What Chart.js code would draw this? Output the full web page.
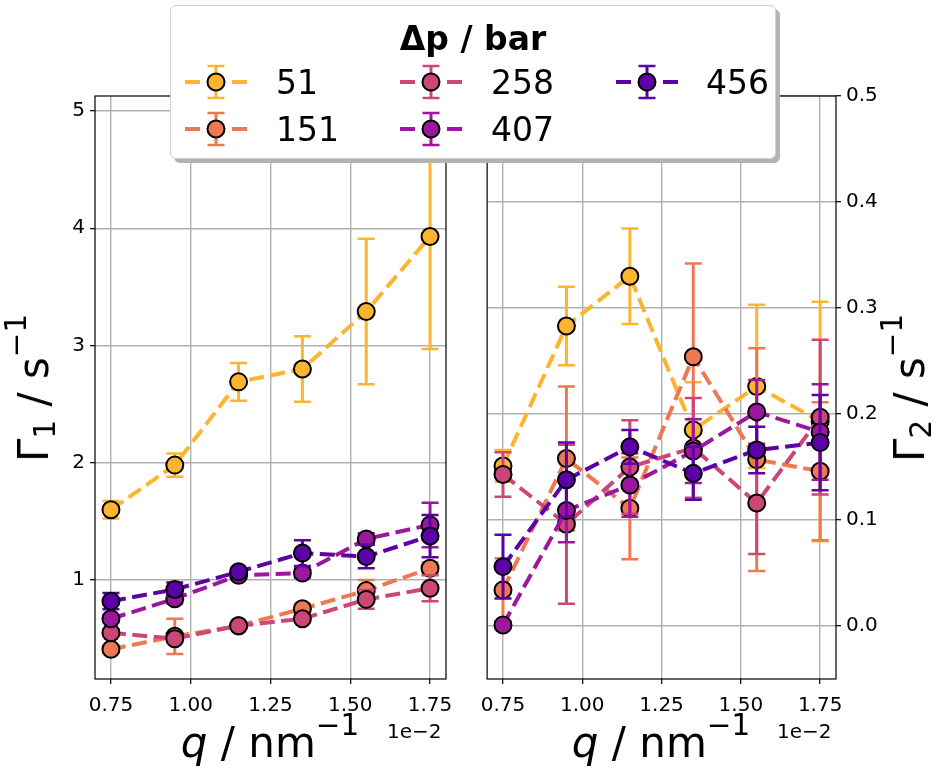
<!DOCTYPE html>
<html>
<head>
<meta charset="utf-8">
<script src="https://cdn.jsdelivr.net/npm/chart.js@4.4.0/dist/chart.umd.min.js"></script>
<style>
  body { margin: 0; background: #fff; font-family: 'DejaVu Sans', sans-serif; }
  #page { position: relative; width: 938px; height: 775px; overflow: hidden; }
  .panel { position: absolute; top: 0; height: 775px; }
  #leftPanel { left: 0; width: 470px; }
  #rightPanel { left: 470px; width: 468px; }
  .axtitle { position: absolute; font-size: 42px; line-height: 1; white-space: nowrap; color: #000; }
  .axtitle sub, .axtitle sup { font-size: 70%; line-height: 0; }
  .axtitle sub { vertical-align: -0.25em; }
  .axtitle sup { vertical-align: 0.75em; }
  .ytitle { transform: translate(-50%, -50%) rotate(-90deg); }
  .xtitle { transform: translateX(-50%); }
  .offset { position: absolute; font-size: 20px; line-height: 1; color: #000; }
  #legend { position: absolute; left: 170px; top: 5px; width: 604px; height: 152px;
            background: #fff; border: 1px solid #d0d0d0; border-radius: 6px;
            box-shadow: 4px 4px 0 #b3b3b3; }
  #legend .ltitle { position: absolute; left: 0; width: 100%; top: 16px; text-align: center;
                    font-weight: bold; font-size: 33px; line-height: 1; }
  #legend .item { position: absolute; font-size: 33px; line-height: 33px; }
  #legend svg { position: absolute; }
</style>
</head>
<body>
<div id="page">
  <div class="panel" id="leftPanel"><canvas id="gamma1Chart"></canvas></div>
  <div class="panel" id="rightPanel"><canvas id="gamma2Chart"></canvas></div>

  <div class="axtitle ytitle" style="left:34px; top:388px;">Γ<sub>1</sub> / s<sup>−1</sup></div>
  <div class="axtitle ytitle" style="left:910px; top:388px;">Γ<sub>2</sub> / s<sup>−1</sup></div>
  <div class="axtitle xtitle" style="left:270px; top:722px;"><i>q</i> / nm<sup>−1</sup></div>
  <div class="axtitle xtitle" style="left:661px; top:722px;"><i>q</i> / nm<sup>−1</sup></div>
  <div class="offset" style="left:387px; top:721px;">1e−2</div>
  <div class="offset" style="left:777px; top:721px;">1e−2</div>

  <div id="legend"><div class="ltitle">Δp / bar</div></div>
</div>

<script>
// q values (x 1e-2 nm^-1)
const qValues = [0.75, 0.95, 1.15, 1.35, 1.55, 1.75];
const pressures = ['51', '151', '258', '407', '456'];
const colours = ['#fdb42f', '#ed7953', '#cc4778', '#9c179e', '#5c01a6'];

const qTicks = [0.75, 1.00, 1.25, 1.50, 1.75];
const gamma1Ticks = [1, 2, 3, 4, 5];
const gamma2Ticks = [0.0, 0.1, 0.2, 0.3, 0.4, 0.5];

// Gamma_1 / s^-1, one row per pressure
const gamma1 = [
    [1.60, 1.98, 2.69, 2.80, 3.29, 3.93],
    [0.41, 0.52, 0.61, 0.755, 0.91, 1.10],
    [0.55, 0.50, 0.61, 0.67, 0.835, 0.93],
    [0.67, 0.84, 1.04, 1.06, 1.35, 1.47],
    [0.82, 0.92, 1.07, 1.23, 1.20, 1.375]
];
const gamma1Err = [
    [0.075, 0.10, 0.16, 0.28, 0.62, 0.96],
    [0.03, 0.15, 0.03, 0.04, 0.09, 0.05],
    [0.03, 0.03, 0.02, 0.03, 0.08, 0.11],
    [0.03, 0.04, 0.03, 0.04, 0.05, 0.19],
    [0.07, 0.06, 0.03, 0.11, 0.10, 0.18]
];

// Gamma_2 / s^-1
const gamma2 = [
    [0.151, 0.283, 0.330, 0.185, 0.226, 0.193],
    [0.034, 0.158, 0.111, 0.254, 0.157, 0.146],
    [0.143, 0.096, 0.150, 0.168, 0.116, 0.197],
    [0.001, 0.109, 0.133, 0.165, 0.202, 0.183],
    [0.056, 0.138, 0.169, 0.144, 0.166, 0.173]
];
const gamma2Err = [
    [0.015, 0.037, 0.045, 0.045, 0.077, 0.113],
    [0.030, 0.068, 0.048, 0.088, 0.105, 0.065],
    [0.021, 0.075, 0.044, 0.047, 0.048, 0.073],
    [0.003, 0.030, 0.030, 0.030, 0.030, 0.045],
    [0.030, 0.035, 0.016, 0.025, 0.022, 0.045]
];

Chart.defaults.font.family = "'DejaVu Sans', sans-serif";
Chart.defaults.color = '#000';

// draws vertical error bars with caps under each dataset
const errorBars = {
    id: 'errorBars',
    beforeDatasetDraw(chart, args) {
        var ds = chart.data.datasets[args.index];
        var yScale = chart.scales.y;
        var area = chart.chartArea;
        var ctx = chart.ctx;
        ctx.save();
        ctx.beginPath();
        ctx.rect(area.left, area.top, area.right - area.left, area.bottom - area.top);
        ctx.clip();
        ctx.strokeStyle = ds.borderColor;
        args.meta.data.forEach(function (pt, i) {
            var v = ds.data[i].y, e = ds.errors[i];
            var lo = yScale.getPixelForValue(v - e);
            var hi = yScale.getPixelForValue(v + e);
            ctx.lineWidth = 3;
            ctx.beginPath();
            ctx.moveTo(pt.x, lo);
            ctx.lineTo(pt.x, hi);
            ctx.stroke();
            ctx.lineWidth = 2.5;
            ctx.beginPath();
            ctx.moveTo(pt.x - 8.5, lo); ctx.lineTo(pt.x + 8.5, lo);
            ctx.moveTo(pt.x - 8.5, hi); ctx.lineTo(pt.x + 8.5, hi);
            ctx.stroke();
        });
        ctx.restore();
    }
};

// black box round the axes
const frame = {
    id: 'frame',
    afterDatasetsDraw(chart) {
        var a = chart.chartArea, ctx = chart.ctx;
        ctx.save();
        ctx.strokeStyle = '#000';
        ctx.lineWidth = 1.2;
        ctx.strokeRect(a.left, a.top, a.right - a.left, a.bottom - a.top);
        ctx.restore();
    }
};

function makeDatasets(values, errors) {
    return pressures.map(function (p, i) {
        return {
            label: p,
            data: qValues.map(function (q, j) { return { x: q, y: values[i][j] }; }),
            errors: errors[i],
            borderColor: colours[i],
            borderWidth: 4,
            borderDash: [15, 6.5],
            pointRadius: 8.5,
            pointBorderWidth: 2,
            pointBorderColor: '#000',
            pointBackgroundColor: colours[i],
            fill: false,
            tension: 0,
            order: pressures.length - i
        };
    });
}

function gridOpts() {
    return { color: '#b0b0b0', lineWidth: 1.4, tickColor: '#000', tickWidth: 1.2, tickLength: 5, drawTicks: true };
}

function makeChart(canvasId, values, errors, yMin, yMax, yTicks, yDigits, yPos, padding, yWidth) {
    var ctx = document.getElementById(canvasId).getContext('2d');
    return new Chart(ctx, {
        type: 'line',
        data: { datasets: makeDatasets(values, errors) },
        options: {
            responsive: true,
            maintainAspectRatio: false,
            animation: false,
            layout: { padding: padding },
            plugins: { legend: { display: false }, tooltip: { enabled: false } },
            scales: {
                x: {
                    type: 'linear',
                    min: 0.70,
                    max: 1.80,
                    afterBuildTicks: function (s) { s.ticks = qTicks.map(function (v) { return { value: v }; }); },
                    afterFit: function (s) { s.height = 45; },
                    ticks: {
                        callback: function (v) { return v.toFixed(2); },
                        font: { size: 20 },
                        padding: 10,
                        maxRotation: 0,
                        autoSkip: false
                    },
                    grid: gridOpts(),
                    border: { display: false }
                },
                y: {
                    type: 'linear',
                    position: yPos,
                    min: yMin,
                    max: yMax,
                    afterBuildTicks: function (s) { s.ticks = yTicks.map(function (v) { return { value: v }; }); },
                    afterFit: function (s) { s.width = yWidth; },
                    ticks: {
                        callback: function (v) { return v.toFixed(yDigits); },
                        font: { size: 20 },
                        padding: 5,
                        autoSkip: false
                    },
                    grid: gridOpts(),
                    border: { display: false }
                }
            }
        },
        plugins: [errorBars, frame]
    });
}

makeChart('gamma1Chart', gamma1, gamma1Err, 0.156, 5.128, gamma1Ticks, 0, 'left',
    { top: 96, right: 24, bottom: 51, left: 0 }, 95);
makeChart('gamma2Chart', gamma2, gamma2Err, -0.05, 0.5, gamma2Ticks, 1, 'right',
    { top: 96, right: 0, bottom: 51, left: 16 }, 102);

// legend entries: three columns, filled column by column
var legend = document.getElementById('legend');
var colX = [45, 260, 476];
var textX = [105, 320, 535];
var rowY = [76, 123];
pressures.forEach(function (p, i) {
    var col = Math.floor(i / 2), row = i % 2;
    var c = colours[i];
    var svg = '<svg width="66" height="40" style="left:' + (colX[col] - 33) + 'px; top:' + (rowY[row] - 20) + 'px;">' +
        '<line x1="2" y1="20" x2="17" y2="20" stroke="' + c + '" stroke-width="4"/>' +
        '<line x1="49" y1="20" x2="64" y2="20" stroke="' + c + '" stroke-width="4"/>' +
        '<line x1="33" y1="4" x2="33" y2="36" stroke="' + c + '" stroke-width="3"/>' +
        '<line x1="24.5" y1="4" x2="41.5" y2="4" stroke="' + c + '" stroke-width="2.5"/>' +
        '<line x1="24.5" y1="36" x2="41.5" y2="36" stroke="' + c + '" stroke-width="2.5"/>' +
        '<circle cx="33" cy="20" r="8.5" fill="' + c + '" stroke="#000" stroke-width="2"/>' +
        '</svg>';
    legend.insertAdjacentHTML('beforeend', svg);
    legend.insertAdjacentHTML('beforeend',
        '<div class="item" style="left:' + textX[col] + 'px; top:' + (rowY[row] - 16) + 'px;">' + p + '</div>');
});
</script>
</body>
</html>
